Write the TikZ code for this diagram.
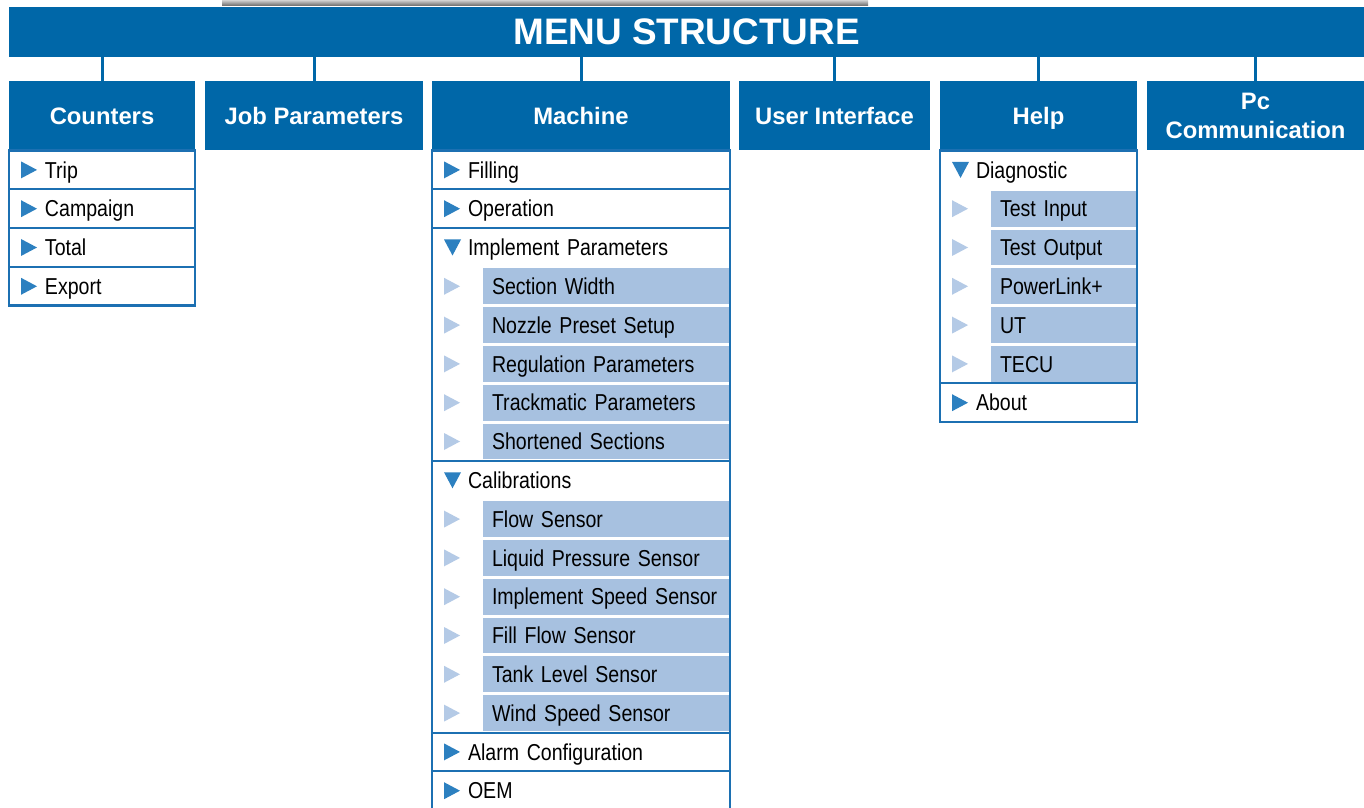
\documentclass[tikz,border=0pt]{standalone}
\usepackage{fontspec}
\setmainfont{Liberation Sans}
\newfontfamily\narrowfont[FakeStretch=0.85,WordSpace=0.85]{Liberation Sans}
\usepackage{tikz}
\usetikzlibrary{positioning}

\newdimen\px \px=0.02cm
\definecolor{mblue}{HTML}{0067A8}
\definecolor{lineblue}{HTML}{1C70B2}
\definecolor{triblue}{HTML}{2C80C0}
\definecolor{trilight}{HTML}{B4CAE6}
\definecolor{subblue}{HTML}{A7C1E0}

\tikzset{
	banner/.style={fill=mblue, text=white, font=\fontsize{21}{25}\selectfont\bfseries, minimum width=1355\px, minimum height=50\px, inner sep=0pt},
	head/.style={fill=mblue, text=white, font=\fontsize{13.55}{16.4}\selectfont\bfseries, minimum width=#1\px, minimum height=69\px, inner sep=0pt, align=center, text depth=0pt},
	rowbase/.style={fill=white, minimum height=38.8\px, inner sep=0pt, text width=#1\px, align=left, font=\narrowfont\fontsize{13.1}{15.7}\selectfont, text height=9.4pt, text depth=0pt},
	topitem/.style={rowbase=#1, execute at begin node={\noindent\hspace*{36\px}},
		path picture={\fill[triblue] ([xshift=12\px]path picture bounding box.west) ++(0,-8.5) -- ++(16,8.5) -- ++(-16,8.5) -- cycle;}},
	openitem/.style={rowbase=#1, execute at begin node={\noindent\hspace*{36\px}},
		path picture={\fill[triblue] ([xshift=12\px]path picture bounding box.west) ++(0,-8) -- ++(17,0) -- ++(-8.5,16) -- cycle;}},
	subitem/.style={rowbase=#1, execute at begin node={\noindent\hspace*{60\px}},
		path picture={\fill[subblue] ([xshift=51\px,yshift=-1.5\px]path picture bounding box.north west) rectangle ([yshift=1.5\px]path picture bounding box.south east);
			\fill[trilight] ([xshift=12\px]path picture bounding box.west) ++(0,-8.5) -- ++(16,8.5) -- ++(-16,8.5) -- cycle;}},
	link/.style={draw=mblue, line width=3\px},
	frame/.style={draw=lineblue, line width=2.5\px},
	sep/.style={draw=lineblue, line width=2\px},
}

\begin{document}
\begin{tikzpicture}[x=1\px, y=-1\px, node distance=0pt, every node/.style={outer sep=0pt}]
	\useasboundingbox (0,0) rectangle (1364,807);
	\clip (0,0) rectangle (1364,807);
	% shadow above the banner
	\shade[top color=gray!35, bottom color=black!60] (222,0) rectangle (868,6);

	\node[banner] (menu) at (686.5,32) {MENU STRUCTURE};

	% column heads
	\node[head=186] (cnt) at (102,116) {Counters};
	\node[head=218] (job) [right=10\px of cnt] {Job Parameters};
	\node[head=298] (mach) [right=9\px of job] {Machine};
	\node[head=191] (ui) [right=9\px of mach] {User Interface};
	\node[head=197] (help) [right=10\px of ui] {Help};
	\node[head=217] (pc) [right=10\px of help] {Pc\\Communication};

	\foreach \h in {cnt,job,mach,ui,help,pc}
		\draw[link] (\h.north) -- (\h.north |- menu.south);

	% Counters
	\node[topitem=186] (c1) [below=of cnt] {Trip};
	\node[topitem=186] (c2) [below=of c1] {Campaign};
	\node[topitem=186] (c3) [below=of c2] {Total};
	\node[topitem=186] (c4) [below=of c3] {Export};

	% Machine
	\node[topitem=298] (m1) [below=of mach] {Filling};
	\node[topitem=298] (m2) [below=of m1] {Operation};
	\node[openitem=298] (m3) [below=of m2] {Implement Parameters};
	\node[subitem=298] (m4) [below=of m3] {Section Width};
	\node[subitem=298] (m5) [below=of m4] {Nozzle Preset Setup};
	\node[subitem=298] (m6) [below=of m5] {Regulation Parameters};
	\node[subitem=298] (m7) [below=of m6] {Trackmatic Parameters};
	\node[subitem=298] (m8) [below=of m7] {Shortened Sections};
	\node[openitem=298] (m9) [below=of m8] {Calibrations};
	\node[subitem=298] (m10) [below=of m9] {Flow Sensor};
	\node[subitem=298] (m11) [below=of m10] {Liquid Pressure Sensor};
	\node[subitem=298] (m12) [below=of m11] {Implement Speed Sensor};
	\node[subitem=298] (m13) [below=of m12] {Fill Flow Sensor};
	\node[subitem=298] (m14) [below=of m13] {Tank Level Sensor};
	\node[subitem=298] (m15) [below=of m14] {Wind Speed Sensor};
	\node[topitem=298] (m16) [below=of m15] {Alarm Configuration};
	\node[topitem=298] (m17) [below=of m16] {OEM};

	% Help
	\node[openitem=197] (h1) [below=of help] {Diagnostic};
	\node[subitem=197] (h2) [below=of h1] {Test Input};
	\node[subitem=197] (h3) [below=of h2] {Test Output};
	\node[subitem=197] (h4) [below=of h3] {PowerLink+};
	\node[subitem=197] (h5) [below=of h4] {UT};
	\node[subitem=197] (h6) [below=of h5] {TECU};
	\node[topitem=197] (h7) [below=of h6] {About};

	% borders
	\foreach \n in {c1,c2,c3,m1,m2,m8,m15,m16,h6}
		\draw[sep] (\n.south west) -- (\n.south east);
	\draw[frame] (c1.north west) rectangle (c4.south east);
	\draw[frame] (m1.north west) rectangle (m17.south east);
	\draw[frame] (h1.north west) rectangle (h7.south east);
\end{tikzpicture}
\end{document}
